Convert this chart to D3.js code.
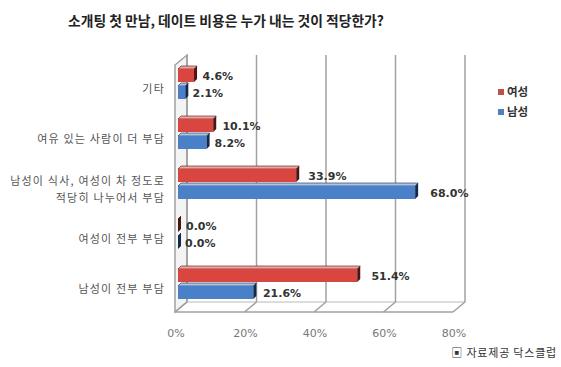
<!DOCTYPE html>
<html>
<head>
<meta charset="utf-8">
<script src="https://cdn.jsdelivr.net/npm/d3@7"></script>
<style>
  body { margin: 0; background: #fff; }
  svg { display: block; }
</style>
</head>
<body>
<div id="chart"></div>
<script>
const categories = ['기타', '여유 있는 사람이 더 부담', '남성이 식사, 여성이 차 정도로\n적당히 나누어서 부담', '여성이 전부 부담', '남성이 전부 부담']
const female = [4.6, 10.1, 33.9, 0.0, 51.4]
const male = [2.1, 8.2, 68.0, 0.0, 21.6]
const seriesNames = ['여성', '남성']
const tickValues = [0, 20, 40, 60, 80]

const width = 561, height = 367
const depth = { dx: 12, dy: -10 }   // 3d wall depth
const bar3d = { dx: 3, dy: -3 }     // bar depth
const colors = {
  red: { front: '#d8463f', top: '#f1a4a0', side: '#4a1513', legend: '#c0504d' },
  blue: { front: '#4a80c8', top: '#a9c6ea', side: '#14294a', legend: '#4f81bd' }
}

const svg = d3.select('#chart').append('svg')
  .attr('width', width)
  .attr('height', height)

// front floor scale and bar scale
const xf = d3.scaleLinear().domain([0, 80]).range([175, 453])
const xb = d3.scaleLinear().domain([0, 80]).range([178, 457])
const y = d3.scaleBand().domain(categories).range([59, 309])

const floorY = 312
const topY = 55

// title
svg.append('text')
  .attr('x', 68).attr('y', 26)
  .attr('font-family', '"Noto Sans CJK KR", sans-serif')
  .attr('font-weight', 'bold')
  .attr('font-size', 13.8)
  .attr('fill', '#222')
  .text('소개팅 첫 만남, 데이트 비용은 누가 내는 것이 적당한가?')

// walls
const walls = svg.append('g').attr('fill', 'none').attr('stroke', '#a0a0a0').attr('stroke-width', 1.5)

walls.append('path')
  .attr('d', `M${xf(0)},${floorY} L${xf(0)},${topY - depth.dy} L${xf(0) + depth.dx},${topY} L${xf(0) + depth.dx},${floorY + depth.dy} Z`)
  .attr('fill', '#f4f4f4')

walls.append('line')
  .attr('x1', xf(0) + depth.dx).attr('x2', xf(80) + depth.dx)
  .attr('y1', floorY + depth.dy).attr('y2', floorY + depth.dy)
  .attr('stroke', '#d0d0d0')

walls.selectAll('.grid')
  .data(tickValues)
  .join('line')
  .attr('class', 'grid')
  .attr('x1', d => xf(d) + depth.dx).attr('x2', d => xf(d) + depth.dx)
  .attr('y1', topY).attr('y2', floorY + depth.dy)

walls.selectAll('.diag')
  .data(tickValues)
  .join('line')
  .attr('class', 'diag')
  .attr('x1', d => xf(d)).attr('x2', d => xf(d) + depth.dx)
  .attr('y1', floorY).attr('y2', floorY + depth.dy)

walls.append('line')
  .attr('x1', xf(0)).attr('x2', xf(80))
  .attr('y1', floorY).attr('y2', floorY)

// tick labels
svg.selectAll('.tick-label')
  .data(tickValues)
  .join('text')
  .attr('class', 'tick-label')
  .attr('x', d => xf(d) + 1)
  .attr('y', 337)
  .attr('text-anchor', 'middle')
  .attr('font-family', '"DejaVu Sans", sans-serif')
  .attr('font-size', 11)
  .attr('fill', '#777')
  .text(d => d + '%')

// category labels
const catLabels = svg.selectAll('.cat')
  .data(categories)
  .join('text')
  .attr('class', 'cat')
  .attr('text-anchor', 'end')
  .attr('font-family', '"Noto Sans CJK KR", sans-serif')
  .attr('font-size', 11)
  .attr('letter-spacing', 1.2)
  .attr('fill', '#555')

catLabels.each(function(d) {
  const lines = d.split('\n')
  const cy = y(d) + y.bandwidth() / 2 + 5
  const t = d3.select(this)
  lines.forEach((ln, i) => {
    t.append('tspan')
      .attr('x', 165)
      .attr('y', cy + 4 + (i - (lines.length - 1) / 2) * 17)
      .text(ln)
  })
})

// bars
function drawBar(g, v, yTop, h, c) {
  const x0 = xb(0), x1 = xb(v)
  const dx = bar3d.dx, dy = bar3d.dy
  g.append('path')
    .attr('d', `M${x0},${yTop} L${x0 + dx},${yTop + dy} L${x1 + dx},${yTop + dy} L${x1},${yTop} Z`)
    .attr('fill', c.top).attr('stroke', c.side).attr('stroke-width', 0.6)
  g.append('rect')
    .attr('x', x0).attr('y', yTop)
    .attr('width', x1 - x0).attr('height', h)
    .attr('fill', c.front)
  g.append('path')
    .attr('d', `M${x1},${yTop} L${x1 + dx},${yTop + dy} L${x1 + dx},${yTop + h + dy} L${x1},${yTop + h} Z`)
    .attr('fill', c.side)
}

const barG = svg.append('g')
const labelG = svg.append('g')
  .attr('font-family', '"DejaVu Sans", sans-serif')
  .attr('font-weight', 'bold')
  .attr('font-size', 11)
  .attr('fill', '#333')

categories.forEach((cat, i) => {
  const c = y(cat) + y.bandwidth() / 2
  drawBar(barG, female[i], c - 15, 13, colors.red)
  drawBar(barG, male[i], c + 2, 13, colors.blue)

  labelG.append('text')
    .attr('x', xb(female[i]) + 8 + female[i] * 0.12)
    .attr('y', c - 8.5 + 4)
    .text(female[i].toFixed(1) + '%')
  labelG.append('text')
    .attr('x', xb(male[i]) + 7 + male[i] * 0.12)
    .attr('y', c + 8.5 + 4)
    .text(male[i].toFixed(1) + '%')
})

// legend
const legend = svg.append('g')
const legendColors = [colors.red.legend, colors.blue.legend]
seriesNames.forEach((name, i) => {
  legend.append('rect')
    .attr('x', 498).attr('y', 89 + i * 20)
    .attr('width', 6).attr('height', 6)
    .attr('fill', legendColors[i])
  legend.append('text')
    .attr('x', 507).attr('y', 96 + i * 20)
    .attr('font-family', '"Noto Sans CJK KR", sans-serif')
    .attr('font-weight', 'bold')
    .attr('font-size', 11.5)
    .attr('fill', '#333')
    .text(name)
})

// source
svg.append('text')
  .attr('x', 557).attr('y', 357)
  .attr('text-anchor', 'end')
  .attr('font-family', '"Noto Sans CJK KR", sans-serif')
  .attr('font-size', 11)
  .attr('letter-spacing', 0.8)
  .attr('fill', '#333')
  .text('▣ 자료제공 닥스클럽')
</script>
</body>
</html>
